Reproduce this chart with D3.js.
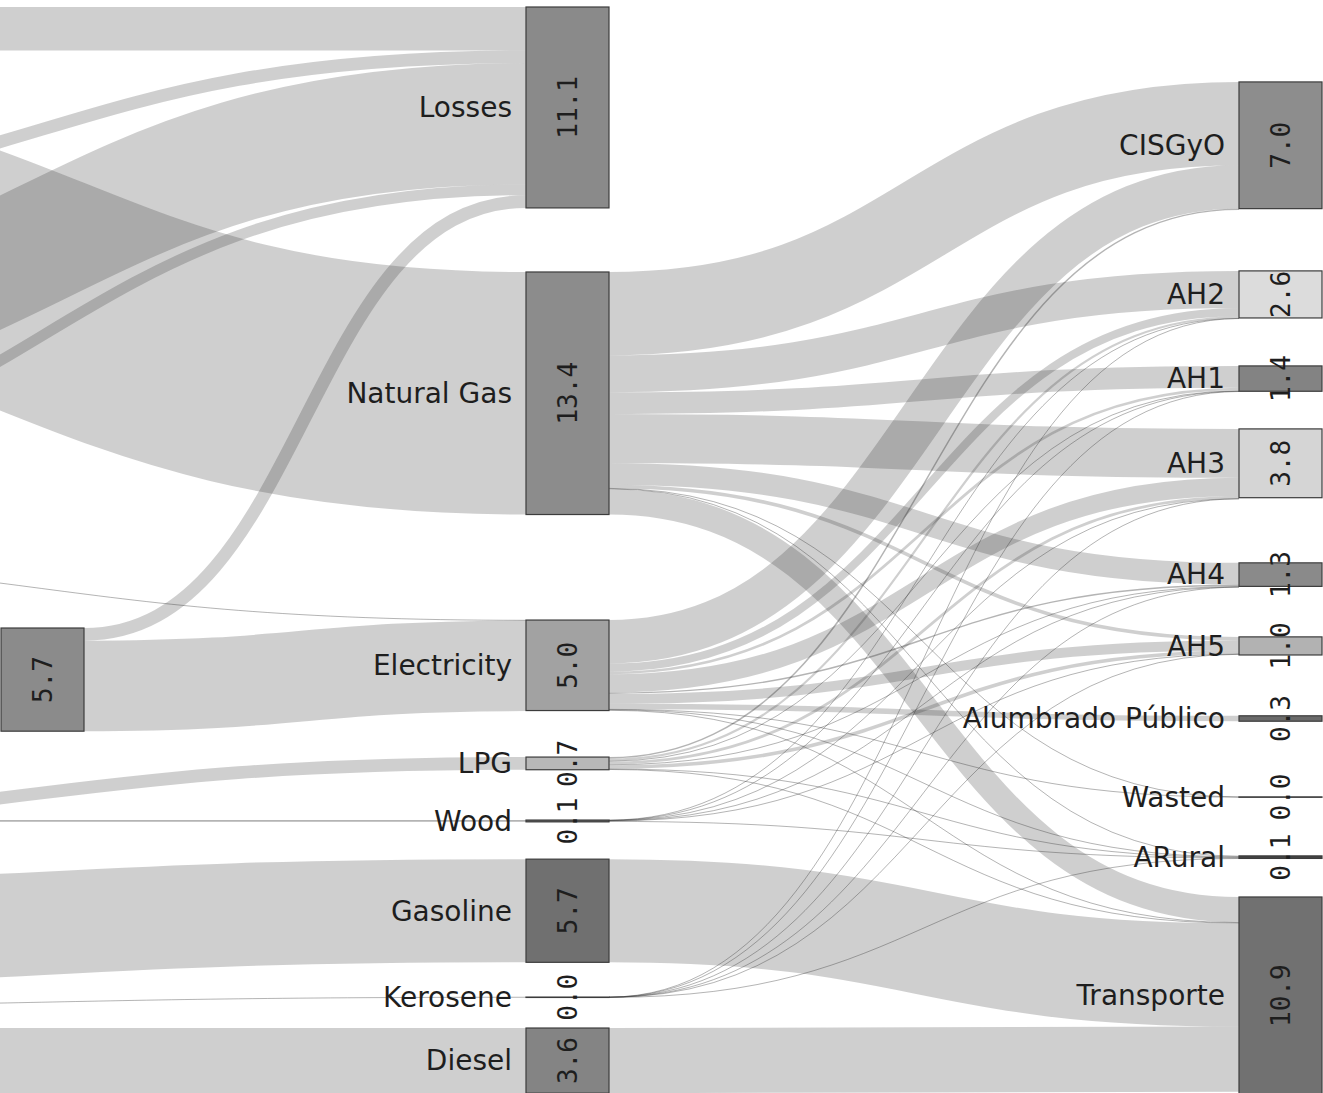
<!DOCTYPE html>
<html>
<head>
<meta charset="utf-8">
<script src="https://cdn.jsdelivr.net/npm/d3@7"></script>
<style>
  html, body { margin: 0; padding: 0; background: #ffffff; overflow: hidden; }
  svg { display: block; }
</style>
</head>
<body>
<svg id="chart" width="1323" height="1093"></svg>
<script>
// ---------------- DATA ----------------
// Generation node (column 1, its name lies outside the visible area)
const generationNodes = ["Generación"];
const generationValues = [5.7];
const generationToTargets = ["Losses", "Electricity"];
const generationToValues = [0.7, 5.0];

// Energy carriers (column 2)
const carrierNodes = ["Losses", "Natural Gas", "Electricity", "LPG", "Wood", "Gasoline", "Kerosene", "Diesel"];
const carrierValues = [11.1, 13.4, 5.0, 0.7, 0.1, 5.7, 0.02, 3.6];

// End uses (column 3)
const useNodes = ["CISGyO", "AH2", "AH1", "AH3", "AH4", "AH5", "Alumbrado Público", "Wasted", "ARural", "Transporte"];
const useValues = [7.0, 2.6, 1.4, 3.8, 1.3, 1.0, 0.3, 0.02, 0.14, 10.9];

// Flows carrier -> end use (in useNodes order)
const naturalGasTo  = [4.6, 2.05, 1.2, 2.7, 1.2, 0.2, 0, 0.01, 0.04, 1.4];
const electricityTo = [2.4, 0.45, 0.15, 1.0, 0.08, 0.55, 0.3, 0.01, 0.03, 0.03];
const lpgTo         = [0.08, 0.12, 0.05, 0.15, 0.05, 0.2, 0, 0, 0.02, 0.03];
const woodTo        = [0, 0.01, 0.01, 0.01, 0.01, 0.01, 0, 0, 0.05, 0];
const gasolineTo    = [0, 0, 0, 0, 0, 0, 0, 0, 0, 5.7];
const keroseneTo    = [0, 0.003, 0.003, 0.003, 0.003, 0.003, 0, 0, 0.005, 0];
const dieselTo      = [0, 0, 0, 0, 0, 0, 0, 0, 0, 3.6];

// Flows arriving from primary sources located left of the visible area
const inflowTargets = ["Losses", "Losses", "Losses", "Losses", "Natural Gas", "Electricity", "LPG", "Wood", "Gasoline", "Kerosene", "Diesel"];
const inflowValues  = [2.4, 0.7, 6.7, 0.6, 13.4, 0.03, 0.7, 0.1, 5.7, 0.02, 3.6];

// ---------------- LAYOUT SETTINGS (value units) ----------------
const generationGaps = [34.31];
const carrierGaps = [0, 3.54, 5.83, 2.57, 2.78, 2.06, 1.92, 1.69];
const useGaps = [4.14, 3.44, 2.65, 2.08, 3.6, 2.79, 3.36, 4.18, 3.24, 2.13];
const inflowDrop = [0, 8.04, 13.15, 16.16, -10.7, -3.52, 3.28, 0, 1.4, 0.55, 0];

// ---------------- STYLES ----------------
const nodeFill = {
  "Generación": "#8b8b8b", "Losses": "#8a8a8a", "Natural Gas": "#8c8c8c", "Electricity": "#a2a2a2",
  "LPG": "#b8b8b8", "Wood": "#5a5a5a", "Gasoline": "#707070", "Kerosene": "#5a5a5a", "Diesel": "#848484",
  "CISGyO": "#8d8d8d", "AH2": "#dcdcdc", "AH1": "#838383", "AH3": "#d5d5d5", "AH4": "#8a8a8a",
  "AH5": "#b2b2b2", "Alumbrado Público": "#6a6a6a", "Wasted": "#444", "ARural": "#444", "Transporte": "#717171"
};

// ---------------- BUILD ----------------
const W = 1323, H = 1093;
const svg = d3.select("#chart");
svg.append("rect").attr("width", W).attr("height", H).attr("fill", "#fff");

const y = d3.scaleLinear().domain([0, 60]).range([7, 1093]);
const k = y(1) - y(0);
const nodeWidth = 83;
const colX = d3.scaleOrdinal().domain([0, 1, 2, 3]).range([-526, 1, 526, 1239]);

const nodes = [];
const byKey = new Map();
function addNode(key, name, col, value) {
  const n = { key, name, col, value, x0: colX(col), x1: colX(col) + nodeWidth, out: [], inn: [] };
  nodes.push(n); byKey.set(key, n); return n;
}
function stackColumn(names, values, gaps, col) {
  let cum = 0;
  names.forEach((nm, i) => {
    cum += gaps[i];
    const n = addNode(nm, nm, col, values[i]);
    n.y0 = y(cum); n.y1 = y(cum + values[i]);
    cum += values[i];
  });
}
stackColumn(generationNodes, generationValues, generationGaps, 1);
stackColumn(carrierNodes, carrierValues, carrierGaps, 2);
stackColumn(useNodes, useValues, useGaps, 3);

const links = [];
function addLink(s, t, v, drop) {
  if (!v) return;
  const l = { source: s, target: t, value: v, width: v * k, drop: drop || 0 };
  links.push(l); s.out.push(l); t.inn.push(l);
}
inflowTargets.forEach((t, i) => {
  const src = addNode("in" + i, "", 0, inflowValues[i]);
  addLink(src, byKey.get(t), inflowValues[i], inflowDrop[i]);
});
generationToTargets.forEach((t, i) => addLink(byKey.get("Generación"), byKey.get(t), generationToValues[i]));
const carrierFlows = [
  ["Natural Gas", naturalGasTo], ["Electricity", electricityTo], ["LPG", lpgTo], ["Wood", woodTo],
  ["Gasoline", gasolineTo], ["Kerosene", keroseneTo], ["Diesel", dieselTo]
];
carrierFlows.forEach(([s, arr]) => arr.forEach((v, j) => addLink(byKey.get(s), byKey.get(useNodes[j]), v)));

// target-side stacking, ordered by source position
const srcKey = l => l.source.col === 0 ? l.target.y0 + l.drop * k : l.source.y0;
nodes.forEach(n => {
  let yy = n.y0;
  n.inn.sort((a, b) => srcKey(a) - srcKey(b)).forEach(l => { l.y1 = yy + l.width / 2; yy += l.width; });
});
// source-side stacking, ordered by target position
nodes.filter(n => n.col > 0).forEach(n => {
  let yy = n.y0;
  n.out.sort((a, b) => a.target.y0 - b.target.y0).forEach(l => { l.y0 = yy + l.width / 2; yy += l.width; });
});
// off-canvas sources
nodes.filter(n => n.col === 0).forEach(n => {
  const l = n.out[0];
  l.y0 = l.y1 + l.drop * k;
  n.y0 = l.y0 - l.width / 2; n.y1 = l.y0 + l.width / 2;
});

// ---------------- DRAW ----------------
const linkPath = d3.linkHorizontal()
  .source(d => [d.source.x1, d.y0])
  .target(d => [d.target.x0, d.y1]);

svg.append("g").attr("fill", "none")
  .selectAll("path").data(links).join("path")
  .attr("d", linkPath)
  .attr("stroke", "#2e2e2e")
  .attr("stroke-opacity", d => d.width < 2 ? 0.36 : 0.23)
  .attr("stroke-width", d => Math.max(1, d.width));

const gNodes = svg.append("g").selectAll("g").data(nodes.filter(n => n.col > 0)).join("g");
gNodes.append("rect")
  .attr("x", d => d.x0).attr("y", d => d.y0)
  .attr("width", nodeWidth).attr("height", d => Math.max(0.4, d.y1 - d.y0))
  .attr("fill", d => nodeFill[d.name] || "#888")
  .attr("stroke", "#3c3c3c").attr("stroke-width", 1.2);

// names: only the columns whose labels fall inside the view
gNodes.filter(d => d.col >= 2).append("text")
  .attr("x", d => d.x0 - 14).attr("y", d => (d.y0 + d.y1) / 2)
  .attr("dy", "0.35em").attr("text-anchor", "end")
  .style("font-family", "'DejaVu Sans', Verdana, sans-serif").style("font-size", "28px")
  .attr("fill", "#1e1e1e")
  .text(d => d.name);

const fmt = d3.format(".1f");
gNodes.append("text")
  .attr("transform", d => `translate(${(d.x0 + d.x1) / 2},${(d.y0 + d.y1) / 2}) rotate(-90)`)
  .attr("dy", "0.36em").attr("text-anchor", "middle")
  .style("font-family", "'DejaVu Sans Mono', 'Liberation Mono', monospace").style("font-size", "26px")
  .attr("fill", "#1e1e1e")
  .text(d => fmt(d.value));
</script>
</body>
</html>
